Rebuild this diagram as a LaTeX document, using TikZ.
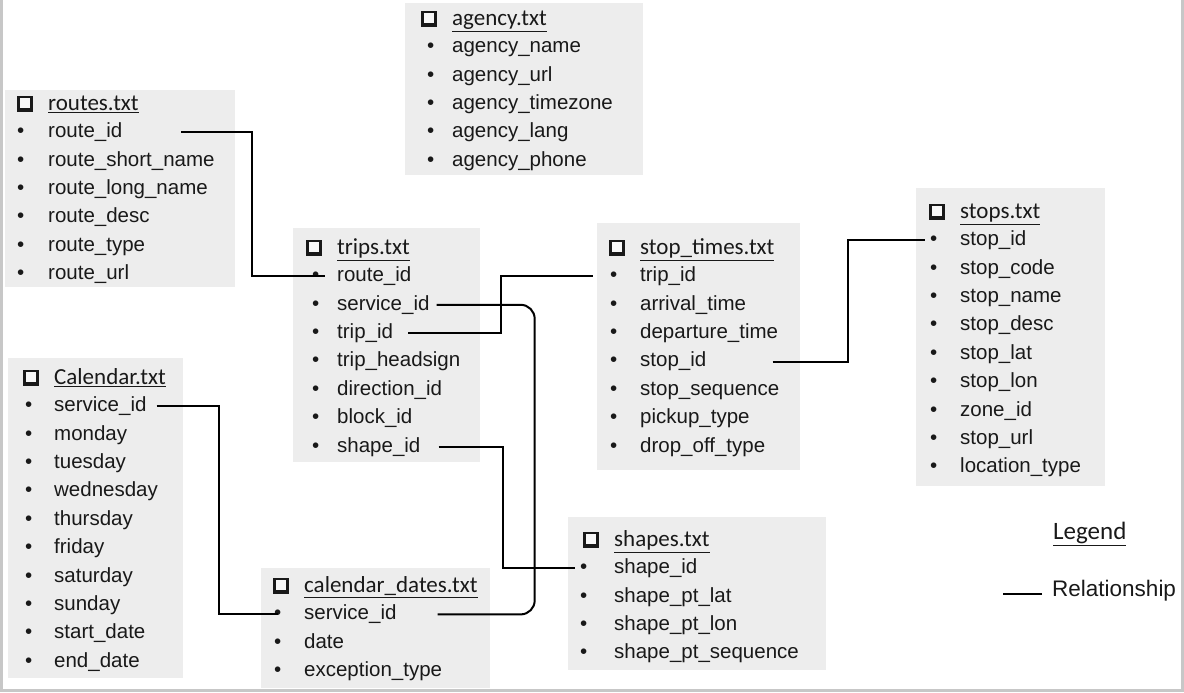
\documentclass[tikz,border=0pt]{standalone}
\usepackage{fontspec}
\setmainfont{Liberation Sans}
\newfontfamily\titlefont{Carlito}
\usepackage{tikz}
\usetikzlibrary{positioning}
\definecolor{tablefill}{rgb}{0.93,0.93,0.93}
\definecolor{fieldink}{rgb}{0.1,0.1,0.1}
\definecolor{framegray}{rgb}{0.78,0.78,0.78}

% shadowed check box
\newcommand{\boxmark}{\rule[-1pt]{16pt}{16pt}\hspace{-13.5pt}\textcolor{tablefill!40!white}{\rule[2.5pt]{10pt}{10pt}}}
% name, bullet x, text x, title y, title, fields
\newcommand{\gtfstable}[6]{%
  \node[tabletitle] (#1-title) at (#3-31,#4+2.5) {\makebox[31pt][l]{\boxmark}\underline{#5}};
  \foreach \f [count=\i] in {#6}
    \node[tablefield] (#1-\i) at (#2,#4+1+28.4*\i) {\makebox[\dimexpr#3pt-#2pt\relax][l]{\textbullet}\f};
}

\begin{document}
\begin{tikzpicture}[x=1pt,y=-1pt,
  tablebg/.style={fill=tablefill, anchor=north west, inner sep=0pt},
  tabletitle/.style={anchor=west, inner sep=0pt, text=fieldink, text height=10.8pt, text depth=0pt,
    font=\titlefont\fontsize{23}{23}\selectfont},
  tablefield/.style={anchor=west, inner sep=0pt, text=fieldink, text height=10.5pt, text depth=0pt,
    font=\fontsize{20.5}{20.5}\selectfont},
  relation/.style={draw=black, line width=2pt}]
\useasboundingbox (0,0) rectangle (1184,693);
\draw[framegray, line width=2.5pt] (1.5,0) -- (1.5,690.5) -- (1182.5,690.5) -- (1182.5,0);

% table backgrounds
\node[tablebg, minimum width=230, minimum height=197] (routes) at (5,90) {};
\node[tablebg, minimum width=238, minimum height=172] (agency) at (405,3) {};
\node[tablebg, minimum width=187, minimum height=234] (trips) at (293,228) {};
\node[tablebg, minimum width=203, minimum height=247] (stoptimes) at (597,223) {};
\node[tablebg, minimum width=189, minimum height=298] (stops) at (916,188) {};
\node[tablebg, minimum width=175, minimum height=320] (calendar) at (8,358) {};
\node[tablebg, minimum width=229, minimum height=120] (caldates) at (261,568) {};
\node[tablebg, minimum width=258, minimum height=153] (shapes) at (568,517) {};

% table contents
\gtfstable{ro}{17}{48}{103}{routes.txt}{route\_id,route\_short\_name,route\_long\_name,route\_desc,route\_type,route\_url}
\gtfstable{ag}{427}{452}{18}{agency.txt}{agency\_name,agency\_url,agency\_timezone,agency\_lang,agency\_phone}
\gtfstable{tr}{312}{337}{247}{trips.txt}{route\_id,service\_id,trip\_id,trip\_headsign,direction\_id,block\_id,shape\_id}
\gtfstable{st}{610}{640}{247}{stop\_times.txt}{trip\_id,arrival\_time,departure\_time,stop\_id,stop\_sequence,pickup\_type,drop\_off\_type}
\gtfstable{sp}{930}{960}{211}{stops.txt}{stop\_id,stop\_code,stop\_name,stop\_desc,stop\_lat,stop\_lon,zone\_id,stop\_url,location\_type}
\gtfstable{ca}{25}{54}{377}{Calendar.txt}{service\_id,monday,tuesday,wednesday,thursday,friday,saturday,sunday,start\_date,end\_date}
\gtfstable{cd}{274}{304}{585}{calendar\_dates.txt}{service\_id,date,exception\_type}
\gtfstable{sh}{580}{614}{539}{shapes.txt}{shape\_id,shape\_pt\_lat,shape\_pt\_lon,shape\_pt\_sequence}

% relationships
\draw[relation] ([xshift=59pt]ro-1.east) -- ++(71,0) |- ([xshift=13pt]tr-1.west);
\draw[relation] ([xshift=15pt]tr-3.east) -- ++(93,0) |- ([xshift=-17pt]st-1.west);
\draw[relation] ([xshift=66pt]st-4.east) -- ++(75,0) |- ([xshift=-5pt]sp-1.west);
\draw[relation, rounded corners=14pt] ([xshift=7pt]tr-2.east) -- ++(98,0) |- ([xshift=41pt]cd-1.east);
\draw[relation] ([xshift=18pt]tr-7.east) -- ++(64,0) |- ([xshift=-5pt]sh-1.west);
\draw[relation] ([xshift=10pt]ca-1.east) -- ++(62,0) |- ([xshift=4pt]cd-1.west);

% legend
\node[anchor=west, inner sep=0pt, text=fieldink, font=\titlefont\fontsize{25}{25}\selectfont] (legend) at (1053,534) {\underline{Legend}};
\node[anchor=west, inner sep=0pt, text=fieldink, font=\fontsize{22.5}{22.5}\selectfont] (reltext) at (1052,591) {Relationship};
\draw[relation] ([xshift=-10pt,yshift=-3pt]reltext.west) -- ++(-39,0);
\end{tikzpicture}
\end{document}
